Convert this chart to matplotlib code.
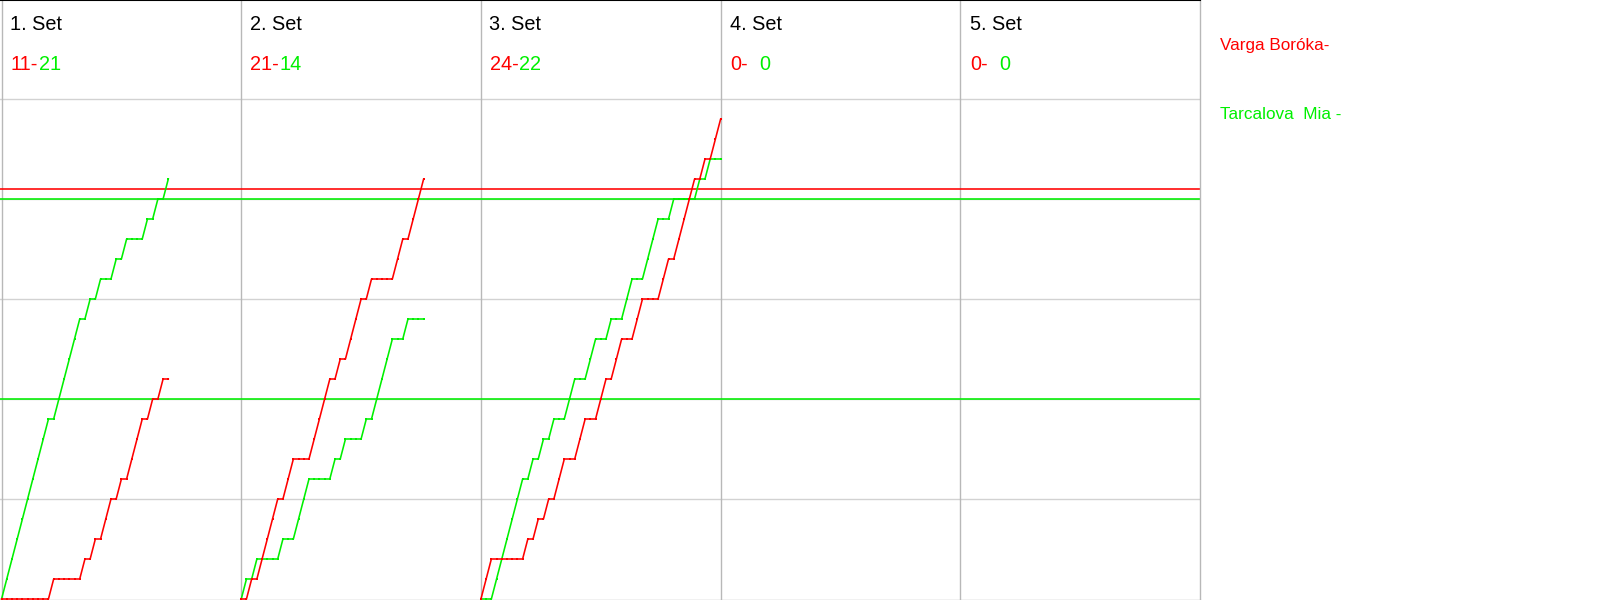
import matplotlib
matplotlib.use("Agg")
import matplotlib.pyplot as plt
import numpy as np

# ---------------------------------------------------------------------------
# Data: rally winners per set (R = Varga Boróka, G = Tarcalova Mia)
# ---------------------------------------------------------------------------
SET_TITLES = ["1. Set", "2. Set", "3. Set", "4. Set", "5. Set"]
RED_SCORES = [11, 21, 24, 0, 0]
GREEN_SCORES = [21, 14, 22, 0, 0]

SET1_RALLIES = "GGGGGGGGG" "R" "GGGGG" "R" "G" "R" "G" "RR" "G" "R" "G" "RRR" "G" "R" "G" "R" "G"
SET2_RALLIES = "G" "R" "G" "RRRR" "G" "RR" "GGG" "RRRR" "G" "R" "G" "RRR" "G" "R" "GGGG" "RR" "G" "RRR"
SET3_RALLIES = ("RR" "GGGGGG" "R" "G" "R" "G" "R" "G" "RR" "GG" "RR" "GG" "RR" "G" "RR" "GG"
                "RR" "GGG" "RR" "G" "RRRR" "G" "R" "G" "RR")
SET4_RALLIES = ""
SET5_RALLIES = ""
RALLIES = [SET1_RALLIES, SET2_RALLIES, SET3_RALLIES, SET4_RALLIES, SET5_RALLIES]

RED_NAME = "Varga Boróka-"
GREEN_NAME = "Tarcalova  Mia -"

RED_MARKS = [20.5]
GREEN_MARKS = [20, 10]

# ---------------------------------------------------------------------------
# Aesthetics
# ---------------------------------------------------------------------------
RED = "#ff0000"
GREEN = "#00f000"
VLINE = "#b8b8b8"
HLINE = "#d2d2d2"
FONT = "Liberation Sans"

SET_WIDTH = max(len(r) for r in RALLIES)   # 46 rallies per column
Y_TOP = 29.95


def px(x, y):
    """pixel coords (from top-left) -> figure fraction"""
    return x / 1600, 1 - y / 600


def main():
    fig = plt.figure(figsize=(16, 6), dpi=100)
    fig.patch.set_facecolor("white")
    ax = fig.add_axes([0, 0, 0.75, 1])
    n_sets = len(SET_TITLES)
    ax.set_xlim(-0.3, n_sets * SET_WIDTH)
    ax.set_ylim(-0.05, Y_TOP)
    ax.set_xticks([])
    ax.set_yticks([])
    ax.spines["left"].set_visible(False)
    ax.spines["top"].set_color("black")
    ax.spines["top"].set_linewidth(1.5)
    for s in ("bottom", "right"):
        ax.spines[s].set_color(VLINE)
        ax.spines[s].set_linewidth(1.0)

    for y in range(5, 30, 5):
        ax.axhline(y, color=HLINE, lw=1.0, zorder=1)
    for k in range(n_sets):
        ax.axvline(k * SET_WIDTH, color=VLINE, lw=1.0, zorder=1)

    for y in RED_MARKS:
        ax.axhline(y, color=RED, lw=1.15, zorder=2)
    for y in GREEN_MARKS:
        ax.axhline(y, color=GREEN, lw=1.15, zorder=2)

    for k, rallies in enumerate(RALLIES):
        if not rallies:
            continue
        seq = np.array(list(rallies))
        x = k * SET_WIDTH + np.arange(len(seq) + 1)
        for who, color in (("G", GREEN), ("R", RED)):
            y = np.concatenate([[0], np.cumsum(seq == who)])
            ax.plot(x, y, color=color, lw=1.15, marker="s", markersize=2.0,
                    markeredgewidth=0, zorder=3, clip_on=False)

    # column headers
    col_px = 1200 / n_sets
    for k in range(n_sets):
        x0 = k * col_px
        fig.text(*px(x0 + 9.5, 30), SET_TITLES[k], color="black",
                 fontsize=14.3, family=FONT, va="baseline")
        fig.text(*px(x0 + 10, 70), f"{RED_SCORES[k]}-", color=RED,
                 fontsize=14.3, family=FONT, va="baseline")
        fig.text(*px(x0 + 39.5, 70), f"{GREEN_SCORES[k]}", color=GREEN,
                 fontsize=14.3, family=FONT, va="baseline")

    # player names
    fig.text(*px(1220, 50), RED_NAME, color=RED, fontsize=12.3,
             family=FONT, va="baseline")
    fig.text(*px(1220, 119), GREEN_NAME, color=GREEN, fontsize=12.3,
             family=FONT, va="baseline")

    fig.savefig("out.png", dpi=100, facecolor="white")
    plt.close(fig)


if __name__ == "__main__":
    main()
